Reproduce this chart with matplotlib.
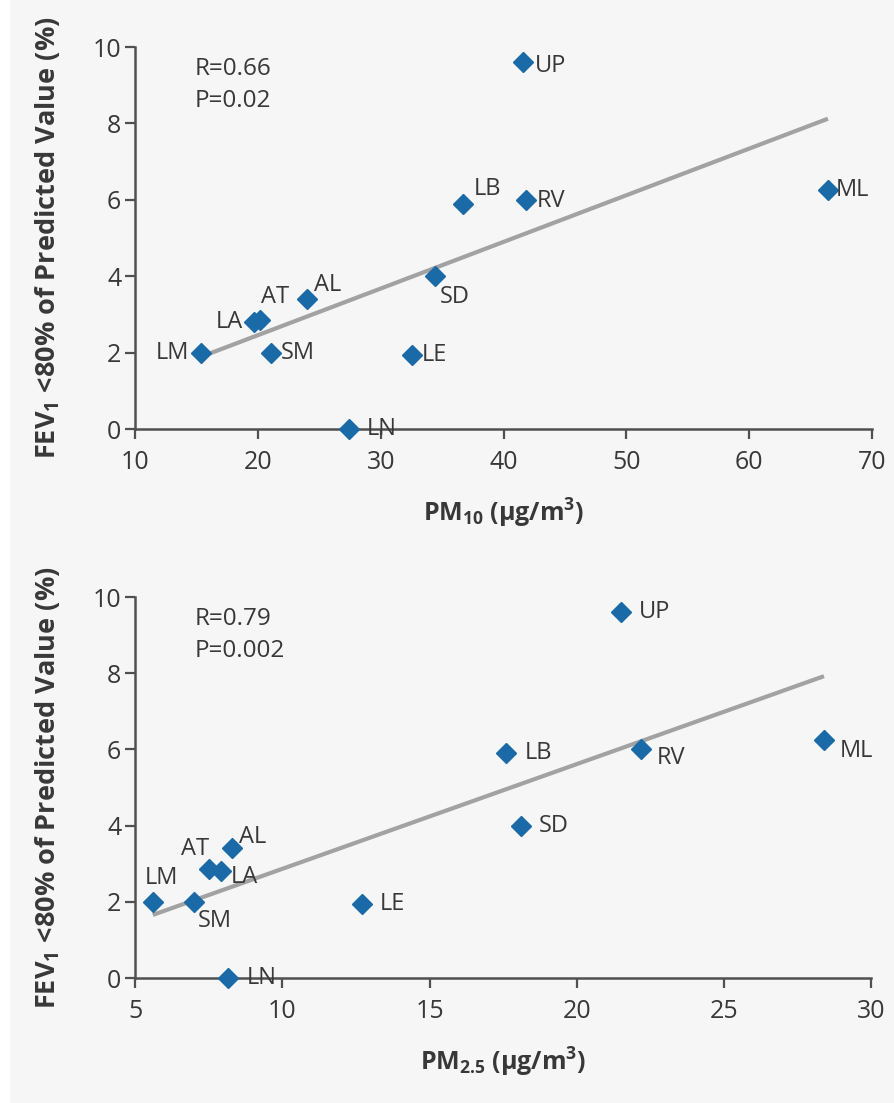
import matplotlib
matplotlib.use("Agg")
import matplotlib.pyplot as plt
import numpy as np
from matplotlib.patches import Rectangle

# data
sites = ["LM", "LA", "AT", "AL", "SM", "LE", "LN", "SD", "LB", "RV", "UP", "ML"]
fev_below_80 = [2.0, 2.8, 2.85, 3.4, 2.0, 1.95, 0.0, 4.0, 5.9, 6.0, 9.6, 6.25]
pm10 = [15.4, 19.7, 20.2, 24.0, 21.1, 32.5, 27.4, 34.4, 36.7, 41.8, 41.6, 66.4]
pm25 = [5.6, 7.9, 7.5, 8.3, 7.0, 12.7, 8.15, 18.1, 17.6, 22.2, 21.5, 28.4]
pm10_ticks = [10, 20, 30, 40, 50, 60, 70]
pm25_ticks = [5, 10, 15, 20, 25, 30]
fev_ticks = [0, 2, 4, 6, 8, 10]
stats_pm10 = "R=0.66\nP=0.02"
stats_pm25 = "R=0.79\nP=0.002"

# label placement (pixel offsets dx, dy, alignment)
offsets_top = {
    "LM": (-12, 0, "right"), "LA": (-11, 0, "right"), "AT": (1, 23, "left"),
    "AL": (7, 14, "left"), "SM": (9, 0, "left"), "LE": (10, 0, "left"),
    "LN": (18, 0, "left"), "SD": (5, -21, "left"), "LB": (11, 15, "left"),
    "RV": (11, -1, "left"), "UP": (12, -4, "left"), "ML": (8, 0, "left"),
}
offsets_bottom = {
    "LM": (9, 24, "center"), "LA": (10, -6, "left"), "AT": (0, 20, "right"),
    "AL": (7, 11, "left"), "SM": (4, -19, "left"), "LE": (18, 0, "left"),
    "LN": (19, 0, "left"), "SD": (18, 0, "left"), "LB": (19, 0, "left"),
    "RV": (15, -9, "left"), "UP": (18, 0, "left"), "ML": (16, -11, "left"),
}

TEXT = "#383838"
AXIS = "#505050"
BLUE = "#1b6aa8"
BG = "#f6f6f6"

plt.rcParams["font.family"] = ["Open Sans", "DejaVu Sans"]
plt.rcParams["mathtext.fontset"] = "custom"
plt.rcParams["mathtext.rm"] = "Open Sans"
plt.rcParams["mathtext.bf"] = "Open Sans:bold"
plt.rcParams["mathtext.it"] = "Open Sans:italic"

fig = plt.figure(figsize=(8.95, 11.03), dpi=100, facecolor=BG)
fig.add_artist(Rectangle((0, 0), 9 / 895, 1, transform=fig.transFigure,
                         color="white", zorder=-1))

ax_top = fig.add_axes([0.151, 0.611, 0.8235, 0.3463])
ax_bot = fig.add_axes([0.151, 0.1133, 0.8223, 0.3454])


def draw_panel(ax, x, ticks, stats, offsets, xlabel):
    ax.set_facecolor(BG)
    x = np.array(x)
    y = np.array(fev_below_80)
    slope, intercept = np.polyfit(x, y, 1)
    xs = np.array([x.min(), x.max()])
    ax.plot(xs, slope * xs + intercept, color="#a2a2a2", lw=3,
            solid_capstyle="butt", zorder=2)
    ax.plot(x, y, linestyle="none", marker="D", ms=10, color=BLUE,
            mec=BLUE, clip_on=False, zorder=3)
    for name, xi, yi in zip(sites, x, y):
        dx, dy, ha = offsets[name]
        ax.annotate(name, (xi, yi), xytext=(dx, dy), textcoords="offset pixels",
                    ha=ha, va="center", fontsize=17, color=TEXT, zorder=4)
    ax.text(0.081, 0.975, stats, transform=ax.transAxes, ha="left", va="top",
            fontsize=17.5, color=TEXT, linespacing=1.45)
    ax.set_xlim(ticks[0], ticks[-1])
    ax.set_ylim(0, 10)
    ax.set_xticks(ticks)
    ax.set_yticks(fev_ticks)
    for side in ("top", "right"):
        ax.spines[side].set_visible(False)
    for side in ("left", "bottom"):
        ax.spines[side].set_color(AXIS)
        ax.spines[side].set_linewidth(1.8)
    ax.tick_params(direction="out", length=7, width=1.6, color=AXIS,
                   labelcolor=TEXT, labelsize=18)
    ax.tick_params(axis="x", pad=8)
    ax.tick_params(axis="y", pad=3)
    ax.set_xlabel(xlabel, fontsize=18, fontweight="bold", color=TEXT,
                  labelpad=16)
    ax.set_ylabel(r"FEV$_{\mathbf{1}}$ <80% of Predicted Value (%)",
                  fontsize=19.5, fontweight="bold", color=TEXT, labelpad=22)


draw_panel(ax_top, pm10, pm10_ticks, stats_pm10, offsets_top,
           r"PM$_{\mathbf{10}}$ (µg/m$^{\mathbf{3}}$)")
draw_panel(ax_bot, pm25, pm25_ticks, stats_pm25, offsets_bottom,
           r"PM$_{\mathbf{2.5}}$ (µg/m$^{\mathbf{3}}$)")

fig.savefig("out.png", dpi=100, facecolor=BG)
